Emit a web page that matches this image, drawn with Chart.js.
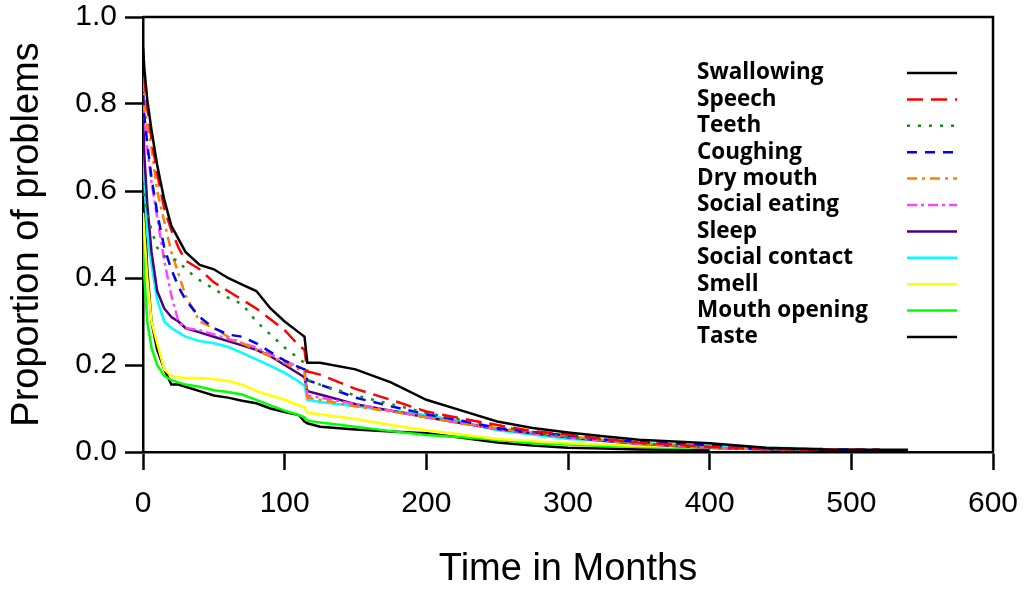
<!DOCTYPE html>
<html>
<head>
<meta charset="utf-8">
<script src="https://cdn.jsdelivr.net/npm/chart.js@4"></script>
<style>
  html, body { margin: 0; padding: 0; background: #fff; }
  #wrap { width: 1024px; height: 591px; }
</style>
</head>
<body>
<div id="wrap"><canvas id="km-chart" width="1024" height="591"></canvas></div>
<script>
// data (proportion with problems over time)
const months = [0, 1, 3, 6, 10, 15, 20, 25, 30, 40, 50, 60, 70, 80, 90, 100, 110, 114, 116, 125,
  150, 175, 200, 225, 250, 275, 300, 325, 350, 375, 400, 440, 480, 520, 540];

const swallowing = [0.93, 0.88, 0.81, 0.74, 0.66, 0.58, 0.52, 0.49, 0.46, 0.43, 0.42, 0.40, 0.385, 0.37, 0.33, 0.30, 0.275, 0.265, 0.205, 0.205,
  0.19, 0.16, 0.12, 0.095, 0.07, 0.055, 0.045, 0.036, 0.028, 0.024, 0.02, 0.01, 0.006, 0.005, 0.005];
const speech = [0.92, 0.86, 0.79, 0.72, 0.64, 0.56, 0.51, 0.47, 0.44, 0.42, 0.39, 0.37, 0.35, 0.33, 0.305, 0.28, 0.245, 0.235, 0.185, 0.178,
  0.145, 0.12, 0.093, 0.077, 0.062, 0.048, 0.04, 0.03, 0.022, 0.017, 0.012, 0.007, 0.005, 0.005, null];
const teeth = [0.62, 0.58, 0.55, 0.51, 0.47, 0.45, 0.445, 0.44, 0.42, 0.395, 0.375, 0.355, 0.34, 0.30, 0.27, 0.24, 0.215, 0.205, 0.165, 0.155,
  0.13, 0.11, 0.09, 0.074, 0.06, 0.045, 0.035, 0.028, 0.02, 0.015, 0.01, 0.006, 0.005, null, null];
const coughing = [0.82, 0.77, 0.71, 0.63, 0.55, 0.47, 0.42, 0.38, 0.35, 0.31, 0.285, 0.27, 0.265, 0.25, 0.23, 0.21, 0.195, 0.19, 0.165, 0.155,
  0.125, 0.105, 0.087, 0.072, 0.055, 0.046, 0.038, 0.029, 0.023, 0.02, 0.015, 0.008, 0.006, 0.005, null];
const dryMouth = [0.86, 0.80, 0.75, 0.70, 0.60, 0.53, 0.46, 0.41, 0.36, 0.30, 0.285, 0.265, 0.25, 0.235, 0.22, 0.205, 0.19, 0.185, 0.125, 0.12,
  0.105, 0.093, 0.08, 0.066, 0.055, 0.045, 0.036, 0.028, 0.02, 0.015, 0.01, 0.007, 0.005, null, null];
const socialEating = [0.85, 0.77, 0.70, 0.62, 0.54, 0.44, 0.36, 0.30, 0.285, 0.28, 0.27, 0.26, 0.25, 0.24, 0.225, 0.21, 0.195, 0.19, 0.13, 0.125,
  0.11, 0.095, 0.08, 0.066, 0.053, 0.043, 0.034, 0.026, 0.019, 0.014, 0.01, 0.006, 0.005, null, null];
const sleep = [0.78, 0.68, 0.57, 0.46, 0.37, 0.33, 0.31, 0.30, 0.285, 0.275, 0.265, 0.255, 0.245, 0.235, 0.22, 0.20, 0.18, 0.172, 0.14, 0.132,
  0.11, 0.095, 0.08, 0.066, 0.053, 0.043, 0.034, 0.026, 0.019, 0.014, 0.01, 0.006, 0.005, 0.004, null];
const socialContact = [0.72, 0.62, 0.50, 0.43, 0.35, 0.30, 0.285, 0.275, 0.265, 0.255, 0.25, 0.242, 0.228, 0.213, 0.198, 0.182, 0.162, 0.152, 0.12, 0.115,
  0.105, 0.095, 0.085, 0.07, 0.05, 0.04, 0.03, 0.025, 0.02, 0.017, 0.015, 0.01, 0.008, null, null];
const smell = [0.55, 0.50, 0.40, 0.30, 0.25, 0.19, 0.175, 0.172, 0.17, 0.17, 0.168, 0.163, 0.155, 0.14, 0.13, 0.12, 0.107, 0.103, 0.09, 0.087,
  0.076, 0.062, 0.05, 0.04, 0.03, 0.025, 0.02, 0.017, 0.014, 0.012, 0.01, 0.008, 0.007, null, null];
const mouthOpening = [0.52, 0.40, 0.30, 0.24, 0.20, 0.175, 0.165, 0.16, 0.155, 0.15, 0.142, 0.138, 0.132, 0.12, 0.107, 0.095, 0.085, 0.08, 0.072, 0.068,
  0.058, 0.048, 0.039, 0.034, 0.028, 0.02, 0.017, 0.014, 0.012, 0.01, 0.009, 0.008, 0.007, null, null];
const taste = [0.70, 0.55, 0.42, 0.30, 0.235, 0.19, 0.155, 0.155, 0.15, 0.14, 0.13, 0.125, 0.118, 0.112, 0.10, 0.092, 0.085, 0.07, 0.066, 0.058,
  0.052, 0.047, 0.043, 0.033, 0.022, 0.015, 0.01, 0.008, 0.006, 0.005, 0.004, null, null, null, null];

const labels = ['Swallowing', 'Speech', 'Teeth', 'Coughing', 'Dry mouth', 'Social eating', 'Sleep',
  'Social contact', 'Smell', 'Mouth opening', 'Taste'];
const seriesList = [swallowing, speech, teeth, coughing, dryMouth, socialEating, sleep,
  socialContact, smell, mouthOpening, taste];
const colors = ['#000000', '#ff0000', '#1a8c1a', '#0000ff', '#ff8000', '#ff44ff', '#4b0082',
  '#00ffff', '#ffff00', '#00ff00', '#000000'];
const dashes = [[], [16, 8], [3, 8], [10, 8], [10, 5, 3, 5], [10, 4, 3, 4], [], [], [], [], []];

const xTicks = [0, 100, 200, 300, 400, 500, 600];
const yTicks = [0, 0.2, 0.4, 0.6, 0.8, 1.0];

const datasets = seriesList.map((vals, i) => ({
  label: labels[i],
  data: months.map((m, j) => ({ x: m, y: vals[j] })),
  borderColor: colors[i],
  borderDash: dashes[i],
  borderWidth: 2.5,
  pointRadius: 0,
  tension: 0,
  spanGaps: false,
  fill: false
}));

// legend on the right, labels first then line sample
const sideLegend = {
  id: 'sideLegend',
  afterDraw(chart) {
    const c = chart.ctx;
    c.save();
    c.font = 'bold 22.5px "Open Sans"';
    c.textBaseline = 'middle';
    c.textAlign = 'left';
    chart.data.datasets.forEach((ds, i) => {
      const y = 73 + i * 26.4;
      c.fillStyle = '#000';
      c.fillText(ds.label, 697, y);
      c.strokeStyle = ds.borderColor;
      c.lineWidth = 2.5;
      c.setLineDash(ds.borderDash);
      c.beginPath();
      c.moveTo(907, y);
      c.lineTo(957, y);
      c.stroke();
    });
    c.restore();
  }
};

// top and right edges of the box
const boxEdges = {
  id: 'boxEdges',
  afterDraw(chart) {
    const a = chart.chartArea;
    const c = chart.ctx;
    c.save();
    c.strokeStyle = '#000';
    c.lineWidth = 2.5;
    c.beginPath();
    c.moveTo(a.left, a.top);
    c.lineTo(a.right, a.top);
    c.lineTo(a.right, a.bottom);
    c.stroke();
    c.restore();
  }
};

const tickFont = { family: "'Liberation Sans', Arial", size: 30 };
const titleFont = { family: "'Liberation Sans', Arial", size: 38, lineHeight: 1 };

new Chart(document.getElementById('km-chart'), {
  type: 'line',
  data: { datasets },
  plugins: [sideLegend, boxEdges],
  options: {
    responsive: false,
    animation: false,
    layout: { padding: { top: 17, right: 31, left: 0, bottom: 0 } },
    plugins: { legend: { display: false }, tooltip: { enabled: false } },
    scales: {
      x: {
        type: 'linear',
        min: 0,
        max: 600,
        afterFit: s => { s.height = 139; s.paddingLeft = 0; s.paddingRight = 0; },
        afterBuildTicks: s => { s.ticks = xTicks.map(v => ({ value: v })); },
        grid: { display: true, drawOnChartArea: false, tickLength: 18, tickWidth: 2.5, color: '#000' },
        border: { display: true, color: '#000', width: 2.5 },
        ticks: { font: tickFont, color: '#000', padding: 16, maxRotation: 0 },
        title: { display: true, text: 'Time in Months', font: titleFont, color: '#000', padding: { top: 0, bottom: 2 } }
      },
      y: {
        type: 'linear',
        min: 0,
        max: 1,
        afterFit: s => { s.width = 143; s.paddingTop = 0; s.paddingBottom = 0; },
        afterBuildTicks: s => { s.ticks = yTicks.map(v => ({ value: v })); },
        grid: { display: true, drawOnChartArea: false, tickLength: 18, tickWidth: 2.5, color: '#000' },
        border: { display: true, color: '#000', width: 2.5 },
        ticks: { font: tickFont, color: '#000', padding: 8, callback: v => v.toFixed(1) },
        title: { display: true, text: 'Proportion of problems', font: titleFont, color: '#000', padding: { top: 9, bottom: 0 } }
      }
    }
  }
});
</script>
</body>
</html>
